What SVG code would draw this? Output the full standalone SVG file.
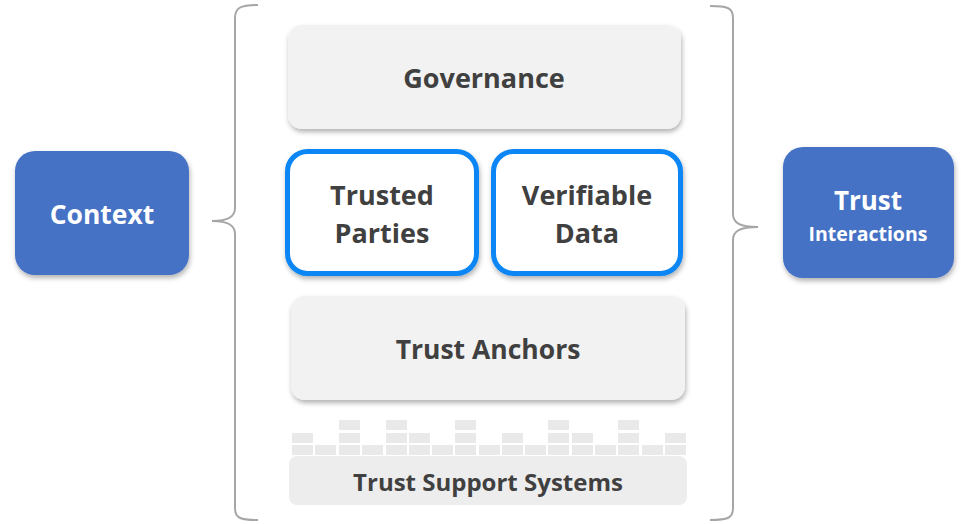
<svg xmlns="http://www.w3.org/2000/svg" width="961" height="524" viewBox="0 0 961 524">
<defs>
<filter id="sh" x="-10%" y="-10%" width="125%" height="135%">
<feDropShadow dx="1" dy="3" stdDeviation="2.5" flood-color="#000" flood-opacity="0.3"/>
</filter>
<style>
.gray{fill:#f2f2f2;filter:url(#sh)}
.blueframe{fill:#fff;stroke:#0a86f5;stroke-width:5;filter:url(#sh)}
.blue{fill:#4472c4;filter:url(#sh)}
.t{font-family:"Open Sans","Noto Sans",sans-serif;font-weight:bold;text-anchor:middle;fill:#404040}
.w{font-family:"Open Sans","Noto Sans",sans-serif;font-weight:bold;text-anchor:middle;fill:#fff}
.blk{fill:#e9e9e9}
.brace{fill:none;stroke:#a6a6a6;stroke-width:2}
</style>
</defs>
<g id="connectors">
<path class="brace" d="M258,5 C240,5 235,8 235,18 L235,208 C235,217 228,221 212,221 C228,221 235,225 235,234 L235,508 C235,518 240,520 258,520"/>
<path class="brace" d="M710,6 C728,6 733,8 733,18 L733,214 C733,223 740,227 758,227 C740,227 733,231 733,240 L733,508 C733,518 728,520 710,520"/>
</g>
<g id="context">
<rect class="blue" x="15" y="151" width="174" height="124" rx="20"/>
<text class="w" x="102" y="224" font-size="26.5">Context</text>
</g>
<g id="trust-interactions">
<rect class="blue" x="783" y="147" width="171" height="131" rx="20"/>
<text class="w" x="868" y="210" font-size="26">Trust</text>
<text class="w" x="868" y="241" font-size="19.5">Interactions</text>
</g>
<g id="governance">
<rect class="gray" x="288" y="25" width="393" height="104" rx="14"/>
<text class="t" x="484" y="88" font-size="27">Governance</text>
</g>
<g id="trusted-parties">
<rect class="blueframe" x="287.5" y="151.5" width="189" height="122" rx="20"/>
<text class="t" x="382" y="205" font-size="27">Trusted</text>
<text class="t" x="382" y="243" font-size="27">Parties</text>
</g>
<g id="verifiable-data">
<rect class="blueframe" x="493.5" y="151.5" width="187" height="122" rx="20"/>
<text class="t" x="587" y="205" font-size="27">Verifiable</text>
<text class="t" x="587" y="243" font-size="27">Data</text>
</g>
<g id="trust-anchors">
<rect class="gray" x="291" y="296" width="394" height="104" rx="14"/>
<text class="t" x="488" y="359" font-size="26.5">Trust Anchors</text>
</g>
<g id="trust-support-systems">
<g class="blk">
<rect x="292" y="445" width="21" height="10"/><rect x="315" y="445" width="21" height="10"/><rect x="339" y="445" width="21" height="10"/><rect x="362" y="445" width="21" height="10"/><rect x="386" y="445" width="21" height="10"/><rect x="409" y="445" width="21" height="10"/><rect x="432" y="445" width="21" height="10"/><rect x="455" y="445" width="21" height="10"/><rect x="479" y="445" width="21" height="10"/><rect x="502" y="445" width="21" height="10"/><rect x="525" y="445" width="21" height="10"/><rect x="548" y="445" width="21" height="10"/><rect x="572" y="445" width="21" height="10"/><rect x="595" y="445" width="21" height="10"/><rect x="618" y="445" width="21" height="10"/><rect x="642" y="445" width="21" height="10"/><rect x="665" y="445" width="21" height="10"/>
<rect x="292" y="433" width="21" height="10"/><rect x="339" y="433" width="21" height="10"/><rect x="386" y="433" width="21" height="10"/><rect x="409" y="433" width="21" height="10"/><rect x="455" y="433" width="21" height="10"/><rect x="502" y="433" width="21" height="10"/><rect x="548" y="433" width="21" height="10"/><rect x="572" y="433" width="21" height="10"/><rect x="618" y="433" width="21" height="10"/><rect x="665" y="433" width="21" height="10"/>
<rect x="339" y="420" width="21" height="10"/><rect x="386" y="420" width="21" height="10"/><rect x="455" y="420" width="21" height="10"/><rect x="548" y="420" width="21" height="10"/><rect x="618" y="420" width="21" height="10"/>
</g>
<rect x="289" y="456" width="398" height="49" rx="8" fill="#ededed"/>
<text class="t" x="488" y="491" font-size="24">Trust Support Systems</text>
</g>
</svg>
